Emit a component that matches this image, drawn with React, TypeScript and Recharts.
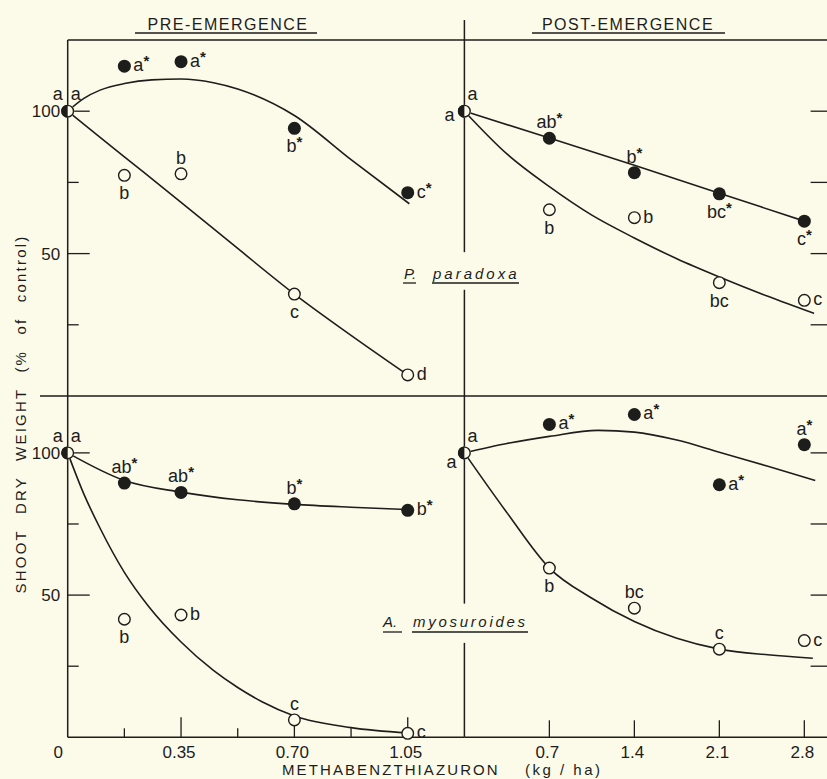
import React from "react";
import {
  ComposedChart,
  Line,
  ReferenceLine,
  Scatter,
  XAxis,
  YAxis,
} from "recharts";

const INK = "#1d1d1b";
const BG = "#fcfbea";
const FONT = "'Liberation Sans', Arial, sans-serif";
const W = 840;
const H = 779;

// application rates (kg/ha)
const preRates = [0, 0.175, 0.35, 0.7, 1.05];
const postRates = [0, 0.7, 1.4, 2.1, 2.8];

// P. paradoxa, pre-emergence
const ppPreFilled = [100, 115.8, 117.4, 94.0, 71.4];
const ppPreFilledSig = ["a", "a*", "a*", "b*", "c*"];
const ppPreOpen = [100, 77.5, 78.0, 35.8, 7.4];
const ppPreOpenSig = ["a", "b", "b", "c", "d"];
const ppPreFilledFitX = [0, 0.05, 0.1, 0.175, 0.26, 0.35, 0.45, 0.525, 0.7, 0.875, 1.055];
const ppPreFilledFitY = [100, 104.5, 107.4, 109.7, 111, 111.3, 110, 107.8, 98.5, 83, 67.5];
const ppPreOpenFitX = [0, 0.175, 0.35, 0.525, 0.7, 0.875, 1.05];
const ppPreOpenFitY = [100, 84, 68, 51.8, 35.8, 21.3, 7.4];

// P. paradoxa, post-emergence
const ppPostFilled = [100, 90.5, 78.4, 71.0, 61.4];
const ppPostFilledSig = ["a", "ab*", "b*", "bc*", "c*"];
const ppPostOpen = [100, 65.4, 62.6, 39.8, 33.6];
const ppPostOpenSig = ["a", "b", "b", "bc", "c"];
const ppPostFilledFitX = [0, 0.7, 1.4, 2.1, 2.8];
const ppPostFilledFitY = [100, 90.6, 81, 71.2, 61.4];
const ppPostOpenFitX = [0, 0.35, 0.7, 1.05, 1.4, 1.75, 2.1, 2.5, 2.88];
const ppPostOpenFitY = [100, 85, 73.5, 63.5, 55.5, 48.2, 41.8, 35, 29];

// A. myosuroides, pre-emergence
const amPreFilled = [100, 89.4, 86.1, 82.1, 79.8];
const amPreFilledSig = ["a", "ab*", "ab*", "b*", "b*"];
const amPreOpen = [100, 41.5, 43.0, 6.1, 1.4];
const amPreOpenSig = ["a", "b", "b", "c", "c"];
const amPreFilledFitX = [0, 0.175, 0.35, 0.525, 0.7, 0.875, 1.05];
const amPreFilledFitY = [100, 90.3, 86.2, 83.5, 81.9, 80.9, 80.1];
const amPreOpenFitX = [0, 0.05, 0.1, 0.175, 0.25, 0.35, 0.45, 0.525, 0.6, 0.7, 0.875, 1.05];
const amPreOpenFitY = [100, 85.5, 73.5, 58, 46, 33.5, 23.5, 17.5, 12.5, 7.5, 3.4, 1.5];

// A. myosuroides, post-emergence
const amPostFilled = [100, 110.0, 113.5, 88.8, 102.9];
const amPostFilledSig = ["a", "a*", "a*", "a*", "a*"];
const amPostOpen = [100, 59.5, 45.4, 31.0, 34.0];
const amPostOpenSig = ["a", "b", "bc", "c", "c"];
const amPostFilledFitX = [0, 0.35, 0.7, 1.1, 1.4, 1.75, 2.1, 2.5, 2.89];
const amPostFilledFitY = [100, 103.3, 105.8, 107.9, 107.3, 104.5, 100.2, 95.3, 90.3];
const amPostOpenFitX = [0, 0.35, 0.7, 1.05, 1.4, 1.75, 2.1, 2.5, 2.87];
const amPostOpenFitY = [100, 79, 59.5, 48.9, 40.7, 34.8, 31, 29, 27.8];

// where each significance letter sits around its point
const ppPreFilledPlace = ["tl", "r", "r", "b", "r"];
const ppPreOpenPlace = ["tr", "b", "t", "b", "r"];
const ppPostFilledPlace = ["l", "t", "t", "b", "b"];
const ppPostOpenPlace = ["tr", "b", "r", "b", "r"];
const amPreFilledPlace = ["tl", "t", "t", "t", "r"];
const amPreOpenPlace = ["tr", "b", "r", "t", "r"];
const amPostFilledPlace = ["bl", "r", "r", "r", "t"];
const amPostOpenPlace = ["tr", "b", "t", "t", "r"];

// axis ticks
const preTicks = [0, 0.175, 0.35, 0.525, 0.7, 0.875, 1.05];
const preTickLabels = ["0", "", "0.35", "", "0.70", "", "1.05"];
const preTopTicks = [0.175, 0.35, 0.525, 0.7, 0.875, 1.05];
const postTicks = [0.7, 1.4, 2.1, 2.8];
const postTickLabels = ["0.7", "1.4", "2.1", "2.8"];
const yTicks = [25, 50, 75, 100];
const yTickLabels = ["", "50", "", "100"];

// tick lengths (px)
const preBottomLen = [0, 9, 20, 9, 20, 9, 20];
const preTopLen = [10, 13, 10, 14, 10, 14];
const yLeftLen = [11, 22, 11, 22];

// frame geometry (px)
const PRE_LEFT = 67.7;
const DIV_X = 464.4;
const POST_RIGHT = 828.6;
const TOP_Y = 40;
const MID_Y = 396;
const BOT_Y = 737.3;
const AX = 1; // thickness reserved for each axis band

const zip = (xs: number[], ys: number[]) => xs.map((x, i) => ({ x, y: ys[i] }));
const points = (xs: number[], ys: number[], sig: string[], place: string[]) =>
  xs.map((x, i) => ({ x, y: ys[i], sig: sig[i], place: place[i] }));

const PLACE: Record<string, { dx: number; dy: number; anchor: string }> = {
  r: { dx: 9, dy: -1, anchor: "start" },
  l: { dx: -10, dy: 4, anchor: "end" },
  t: { dx: 0, dy: -16, anchor: "middle" },
  b: { dx: 0, dy: 18, anchor: "middle" },
  tl: { dx: -5, dy: -17, anchor: "end" },
  tr: { dx: 3, dy: -17, anchor: "start" },
  bl: { dx: -8, dy: 9, anchor: "end" },
};

const Marker = (props: any) => {
  const { cx, cy, payload, filled } = props;
  if (cx == null || cy == null) return null;
  const r = 6.5;
  const origin = payload.x === 0;
  let mark;
  if (filled) {
    mark = origin ? (
      <path d={`M${cx},${cy - r} A${r},${r} 0 0 0 ${cx},${cy + r} Z`} fill={INK} />
    ) : (
      <circle cx={cx} cy={cy} r={r} fill={INK} />
    );
  } else {
    mark = (
      <g>
        {origin && (
          <path d={`M${cx},${cy - r} A${r},${r} 0 0 1 ${cx},${cy + r} Z`} fill={BG} />
        )}
        <circle
          cx={cx}
          cy={cy}
          r={r - 0.7}
          fill={origin ? "none" : BG}
          stroke={INK}
          strokeWidth={1.4}
        />
      </g>
    );
  }
  const pl = PLACE[payload.place] || PLACE.r;
  const star = payload.sig.endsWith("*");
  const base = star ? payload.sig.slice(0, -1) : payload.sig;
  return (
    <g>
      {mark}
      <text
        x={cx + pl.dx}
        y={cy + pl.dy}
        textAnchor={pl.anchor}
        dominantBaseline="central"
        fontSize={18}
        fontFamily={FONT}
        fill={INK}
      >
        {base}
        {star && (
          <tspan fontSize={15} fontWeight="bold" dy={-5}>
            *
          </tspan>
        )}
      </text>
    </g>
  );
};

const frame = { stroke: INK, strokeWidth: 1.5 };

function Panel(props: any) {
  const { kind, row, filled, open, filledFit, openFit } = props;
  const pre = kind === "pre";
  const top = row === "top";
  const xMax = pre ? 1.225 : 3.0;
  const yMax = top ? 125 : 120;
  const margin = {
    left: (pre ? PRE_LEFT : DIV_X) - (pre ? AX : 0),
    right: W - (pre ? DIV_X : POST_RIGHT) - (pre ? 0 : AX),
    top: (top ? TOP_Y : MID_Y) - (top ? AX : 0),
    bottom: H - (top ? MID_Y : BOT_Y) - AX,
  };
  const xTicks = pre ? preTicks : postTicks;
  const xLabels = pre ? preTickLabels : postTickLabels;
  const topTicks = pre ? preTopTicks : postTicks;

  const bottomTick = (p: any) => {
    const i = xTicks.indexOf(p.payload.value);
    const len = pre ? preBottomLen[i] : 17;
    const lbl = xLabels[i];
    return (
      <g>
        {len > 0 && (
          <line x1={p.x} x2={p.x} y1={p.y} y2={p.y - len} stroke={INK} strokeWidth={1.3} />
        )}
        {lbl && (
          <text
            x={p.x + (p.payload.value === 0 ? -9.5 : -2)}
            y={p.y + 21}
            textAnchor="middle"
            fontSize={17}
            fontFamily={FONT}
            fill={INK}
          >
            {lbl}
          </text>
        )}
      </g>
    );
  };

  const topTick = (p: any) => {
    const i = topTicks.indexOf(p.payload.value);
    const len = pre ? preTopLen[i] : 19;
    return <line x1={p.x} x2={p.x} y1={p.y} y2={p.y + len} stroke={INK} strokeWidth={1.3} />;
  };

  const yTick = (p: any) => {
    const i = yTicks.indexOf(p.payload.value);
    if (!pre) {
      return <line x1={p.x} x2={p.x - 18} y1={p.y} y2={p.y} stroke={INK} strokeWidth={1.3} />;
    }
    return (
      <g>
        <line x1={p.x} x2={p.x + yLeftLen[i]} y1={p.y} y2={p.y} stroke={INK} strokeWidth={1.3} />
        {yTickLabels[i] && (
          <text
            x={p.x - 7.5}
            y={p.y}
            dy="0.36em"
            textAnchor="end"
            fontSize={17}
            fontFamily={FONT}
            fill={INK}
          >
            {yTickLabels[i]}
          </text>
        )}
      </g>
    );
  };

  // same scales in both layers; only the lower layer draws the frame
  const axes = (show: boolean) => [
    <XAxis
      key="xb"
      xAxisId="b"
      dataKey="x"
      type="number"
      domain={[0, xMax]}
      ticks={xTicks}
      interval={0}
      height={AX}
      tickSize={0}
      tickMargin={0}
      axisLine={show ? frame : false}
      tickLine={false}
      tick={show && !top ? bottomTick : false}
    />,
    top ? (
      <XAxis
        key="xt"
        xAxisId="t"
        orientation="top"
        type="number"
        domain={[0, xMax]}
        ticks={topTicks}
        interval={0}
        height={AX}
        tickSize={0}
        tickMargin={0}
        axisLine={show ? frame : false}
        tickLine={false}
        tick={show ? topTick : false}
      />
    ) : null,
    <YAxis
      key="y"
      yAxisId="y"
      dataKey="y"
      type="number"
      orientation={pre ? "left" : "right"}
      domain={[0, yMax]}
      ticks={yTicks}
      interval={0}
      width={AX}
      tickSize={0}
      tickMargin={0}
      axisLine={show && pre ? frame : false}
      tickLine={false}
      tick={show ? yTick : false}
    />,
  ];

  const dividerSegs = top
    ? [
        [132, 50.5],
        [37.3, 0],
      ]
    : [
        [120, 47],
        [33.2, 0],
      ];

  return (
    <>
      {/* frame and fitted curves */}
      <div style={{ position: "absolute", left: 0, top: 0 }}>
        <ComposedChart width={W} height={H} margin={margin}>
          {axes(true)}
          {!pre &&
            dividerSegs.map(([a, b], k) => (
              <ReferenceLine
                key={k}
                xAxisId="b"
                yAxisId="y"
                segment={[
                  { x: 0, y: a },
                  { x: 0, y: b },
                ]}
                stroke={INK}
                strokeWidth={1.5}
                ifOverflow="visible"
              />
            ))}
          {pre && top && (
            <ReferenceLine
              xAxisId="b"
              yAxisId="y"
              segment={[
                { x: -0.0855, y: 0 },
                { x: 0, y: 0 },
              ]}
              stroke={INK}
              strokeWidth={1.5}
              ifOverflow="visible"
            />
          )}
          <Line
            xAxisId="b"
            yAxisId="y"
            data={filledFit}
            dataKey="y"
            type="monotone"
            dot={false}
            activeDot={false}
            stroke={INK}
            strokeWidth={1.6}
            isAnimationActive={false}
          />
          <Line
            xAxisId="b"
            yAxisId="y"
            data={openFit}
            dataKey="y"
            type="monotone"
            dot={false}
            activeDot={false}
            stroke={INK}
            strokeWidth={1.6}
            isAnimationActive={false}
          />
        </ComposedChart>
      </div>
      {/* observed means on top */}
      <div style={{ position: "absolute", left: 0, top: 0 }}>
        <ComposedChart width={W} height={H} margin={margin}>
          {axes(false)}
          <Scatter
            xAxisId="b"
            yAxisId="y"
            data={filled}
            dataKey="y"
            shape={(p: any) => <Marker {...p} filled />}
            isAnimationActive={false}
          />
          <Scatter
            xAxisId="b"
            yAxisId="y"
            data={open}
            dataKey="y"
            shape={(p: any) => <Marker {...p} filled={false} />}
            isAnimationActive={false}
          />
        </ComposedChart>
      </div>
    </>
  );
}

const textStyle = { fontFamily: FONT, fill: INK };

export default function App() {
  return (
    <div
      style={{
        position: "absolute",
        left: 0,
        top: 0,
        width: 827,
        height: 779,
        overflow: "hidden",
        background: BG,
      }}
    >
      <Panel
        kind="pre"
        row="top"
        filled={points(preRates, ppPreFilled, ppPreFilledSig, ppPreFilledPlace)}
        open={points(preRates, ppPreOpen, ppPreOpenSig, ppPreOpenPlace)}
        filledFit={zip(ppPreFilledFitX, ppPreFilledFitY)}
        openFit={zip(ppPreOpenFitX, ppPreOpenFitY)}
      />
      <Panel
        kind="post"
        row="top"
        filled={points(postRates, ppPostFilled, ppPostFilledSig, ppPostFilledPlace)}
        open={points(postRates, ppPostOpen, ppPostOpenSig, ppPostOpenPlace)}
        filledFit={zip(ppPostFilledFitX, ppPostFilledFitY)}
        openFit={zip(ppPostOpenFitX, ppPostOpenFitY)}
      />
      <Panel
        kind="pre"
        row="bottom"
        filled={points(preRates, amPreFilled, amPreFilledSig, amPreFilledPlace)}
        open={points(preRates, amPreOpen, amPreOpenSig, amPreOpenPlace)}
        filledFit={zip(amPreFilledFitX, amPreFilledFitY)}
        openFit={zip(amPreOpenFitX, amPreOpenFitY)}
      />
      <Panel
        kind="post"
        row="bottom"
        filled={points(postRates, amPostFilled, amPostFilledSig, amPostFilledPlace)}
        open={points(postRates, amPostOpen, amPostOpenSig, amPostOpenPlace)}
        filledFit={zip(amPostFilledFitX, amPostFilledFitY)}
        openFit={zip(amPostOpenFitX, amPostOpenFitY)}
      />
      <svg
        width={827}
        height={779}
        style={{ position: "absolute", left: 0, top: 0, pointerEvents: "none" }}
      >
        <text x={228} y={30} textAnchor="middle" fontSize={16} letterSpacing={1.5} {...textStyle}>
          PRE-EMERGENCE
        </text>
        <line x1={135} x2={317} y1={33} y2={33} stroke={INK} strokeWidth={1.5} />
        <text x={628} y={30} textAnchor="middle" fontSize={16} letterSpacing={1.5} {...textStyle}>
          POST-EMERGENCE
        </text>
        <line x1={532} x2={725} y1={33} y2={33} stroke={INK} strokeWidth={1.5} />

        <text
          transform="translate(26,414) rotate(-90)"
          textAnchor="middle"
          fontSize={15}
          letterSpacing={2.2}
          wordSpacing={9}
          {...textStyle}
        >
          SHOOT DRY WEIGHT (% of control)
        </text>

        <text x={282} y={775} fontSize={15} letterSpacing={2.1} {...textStyle}>
          METHABENZTHIAZURON
        </text>
        <text x={525} y={775} fontSize={15} letterSpacing={2.5} {...textStyle}>
          (kg / ha)
        </text>

        <text x={404} y={279} fontSize={15} fontStyle="italic" {...textStyle}>
          P.
        </text>
        <text x={433} y={279} fontSize={15} fontStyle="italic" letterSpacing={3} {...textStyle}>
          paradoxa
        </text>
        <line x1={403} x2={416} y1={283} y2={283} stroke={INK} strokeWidth={1.3} />
        <line x1={432} x2={519} y1={283} y2={283} stroke={INK} strokeWidth={1.3} />

        <text x={383} y={627} fontSize={15} fontStyle="italic" {...textStyle}>
          A.
        </text>
        <text x={413} y={627} fontSize={15} fontStyle="italic" letterSpacing={2.7} {...textStyle}>
          myosuroides
        </text>
        <line x1={383} x2={402} y1={632} y2={632} stroke={INK} strokeWidth={1.3} />
        <line x1={412} x2={528} y1={632} y2={632} stroke={INK} strokeWidth={1.3} />
      </svg>
    </div>
  );
}
